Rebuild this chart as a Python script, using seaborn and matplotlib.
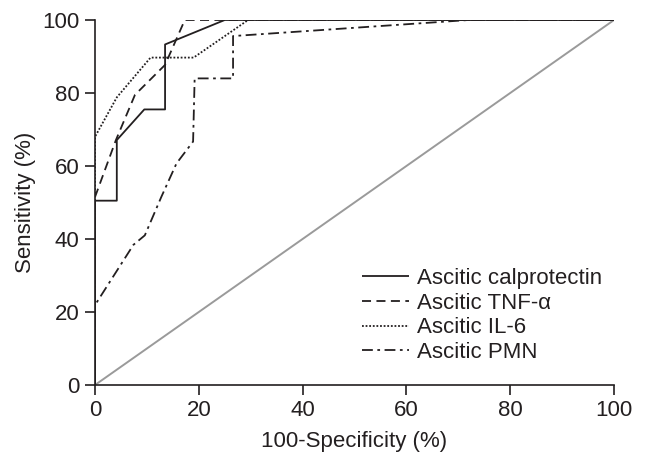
import matplotlib
matplotlib.use("Agg")
import matplotlib.pyplot as plt
import seaborn as sns
import pandas as pd

# ROC curve data (100-Specificity %, Sensitivity %)
calpro_x = [0, 0, 4.2, 4.2, 9.5, 13.5, 13.5, 25, 100]
calpro_y = [0, 50.5, 50.5, 67.1, 75.5, 75.5, 93.3, 100, 100]

tnf_x = [0, 0, 4.0, 7.7, 13.5, 17.3, 100]
tnf_y = [0, 51.5, 67.0, 79.5, 87.7, 100, 100]

il6_x = [0, 0, 4.2, 10.7, 19.0, 29.5, 100]
il6_y = [0, 68.0, 78.8, 89.7, 89.7, 100, 100]

pmn_x = [0, 0, 7.4, 9.6, 12.8, 15.7, 18.9, 19.2, 26.6, 26.6, 72, 100]
pmn_y = [0, 21.9, 38.4, 41.0, 51.6, 60.7, 66.7, 84.0, 84.0, 95.6, 100, 100]

ref_x = [0, 100]
ref_y = [0, 100]

labels = ["Ascitic calprotectin", "Ascitic TNF-\u03b1", "Ascitic IL-6", "Ascitic PMN"]
ticks = [0, 20, 40, 60, 80, 100]

sns.set_theme(style="ticks")
plt.rcParams['font.family'] = ['Liberation Sans', 'DejaVu Sans']

FS = 16
fig = plt.figure(figsize=(6.46, 4.70), dpi=100)
ax = fig.add_axes([95 / 646, 85 / 470, 519 / 646, 365 / 470])

sns.lineplot(x=ref_x, y=ref_y, ax=ax, color="#9a9a9a", linewidth=1.4,
             sort=False, estimator=None)

series = [(calpro_x, calpro_y, (0, ())),
          (tnf_x, tnf_y, (0, (5, 3))),
          (il6_x, il6_y, (0, (1, 1))),
          (pmn_x, pmn_y, (0, (6, 2.5, 1.5, 2.5)))]
for (xs, ys, ls), lab in zip(series, labels):
    df = pd.DataFrame({"x": xs, "y": ys})
    sns.lineplot(data=df, x="x", y="y", ax=ax, color="#231f20", linewidth=1.3,
                 linestyle=ls, sort=False, estimator=None, label=lab)

ax.set_xlim(0, 100)
ax.set_ylim(0, 100)
ax.set_xticks(ticks)
ax.set_yticks(ticks)
ax.set_xlabel("100-Specificity (%)", fontsize=FS, color="#231f20", labelpad=7)
ax.set_ylabel("Sensitivity (%)", fontsize=FS, color="#231f20", labelpad=5)
ax.tick_params(axis="both", labelsize=FS, colors="#231f20", length=7, width=1.2,
               direction="out", pad=4)
for s in ["top", "right"]:
    ax.spines[s].set_visible(False)
for s in ["left", "bottom"]:
    ax.spines[s].set_color("#231f20")
    ax.spines[s].set_linewidth(1.2)
ax.margins(0)

leg = ax.legend(loc="lower right", bbox_to_anchor=(0.977, 0.06), frameon=False,
                fontsize=FS, handlelength=2.1, handletextpad=0.36, labelspacing=0.17,
                borderaxespad=0, borderpad=0)
for t in leg.get_texts():
    t.set_color("#231f20")

fig.savefig("out.png", dpi=100)
